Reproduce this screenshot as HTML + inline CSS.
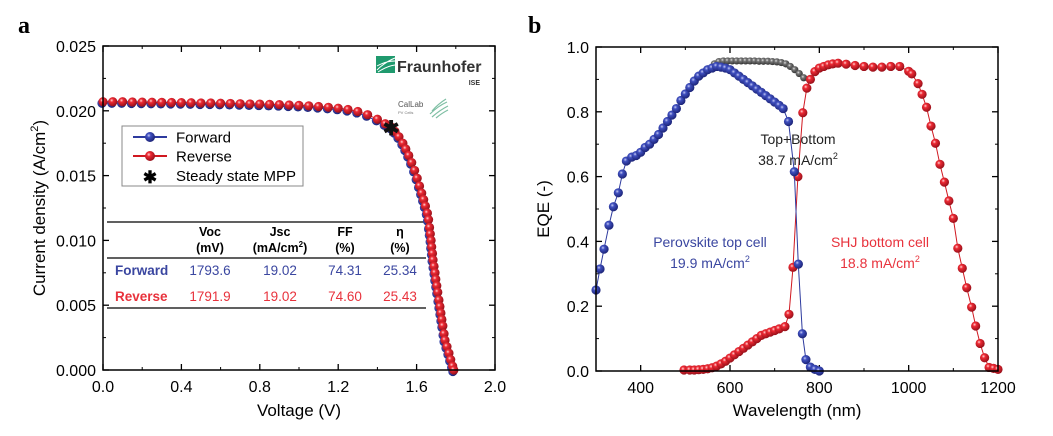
<!DOCTYPE html>
<html><head><meta charset="utf-8"><style>
body{margin:0;background:#fff;}
svg{display:block;font-family:"Liberation Sans",sans-serif;}
</style></head><body>
<svg id="fig" width="1053" height="436" viewBox="0 0 1053 436" xmlns="http://www.w3.org/2000/svg">
<defs>
<radialGradient id="gBlue" cx="0.38" cy="0.35" r="0.65"><stop offset="0" stop-color="#c8ccf4"/><stop offset="0.3" stop-color="#4050c0"/><stop offset="1" stop-color="#1c2478"/></radialGradient>
<radialGradient id="gRed" cx="0.38" cy="0.35" r="0.65"><stop offset="0" stop-color="#ffd8d8"/><stop offset="0.3" stop-color="#ee2a34"/><stop offset="1" stop-color="#98101a"/></radialGradient>
<radialGradient id="gGrey" cx="0.38" cy="0.35" r="0.65"><stop offset="0" stop-color="#e8e8e8"/><stop offset="0.3" stop-color="#777"/><stop offset="1" stop-color="#333"/></radialGradient>
</defs>
<text x="18" y="33" font-family="Liberation Serif,serif" font-weight="bold" font-size="24">a</text>
<text x="528" y="33" font-family="Liberation Serif,serif" font-weight="bold" font-size="24">b</text>
<g id="chartA"></g>
<g id="chartB"></g>
</svg>
<script>
// ---- Panel a data ----
const jvVoltage=[0,0.05,0.1,0.15,0.2,0.25,0.3,0.35,0.4,0.45,0.5,0.55,0.6,0.65,0.7,0.75,0.8,0.85,0.9,0.95,1.0,1.05,1.1,1.15,1.2,1.25,1.3,1.35,1.4,1.44,1.47,1.49,1.51,1.53,1.545,1.56,1.575,1.59,1.603,1.615,1.626,1.636,1.645,1.655,1.661,1.666,1.670,1.674,1.677,1.681,1.684,1.689,1.694,1.698,1.703,1.708,1.714,1.719,1.724,1.729,1.734,1.740,1.745,1.755,1.765,1.774,1.784,1.79];
const jvCurrent=[20.7,20.7,20.7,20.68,20.67,20.66,20.65,20.64,20.63,20.62,20.6,20.6,20.58,20.57,20.55,20.53,20.52,20.5,20.48,20.45,20.42,20.38,20.33,20.27,20.2,20.1,19.95,19.7,19.35,19.0,18.75,18.4,18.0,17.5,17.05,16.55,16.0,15.4,14.8,14.2,13.65,13.15,12.65,12.1,11.6,11.0,10.5,10.0,9.5,9.0,8.5,8.0,7.5,7.0,6.5,6.0,5.4,4.9,4.4,3.9,3.4,2.8,2.3,1.8,1.3,0.8,0.3,0];
const mppPoint=[1.47,18.75];
const jvXTicks=[0,0.4,0.8,1.2,1.6,2.0];
const jvYTicks=[0,0.005,0.010,0.015,0.020,0.025];
// ---- Panel b data ----
const blueWl=[300,309,318,329,339,350,359,368,380,390,400,410,420,430,440,450,460,470,480,490,500,510,520,530,540,550,560,570,580,590,600,610,620,630,640,650,660,670,680,690,700,710,719,731,744,753,762,770,780,790,800];
const blueEqe=[0.25,0.315,0.376,0.45,0.507,0.55,0.608,0.648,0.66,0.665,0.675,0.69,0.70,0.715,0.73,0.75,0.77,0.79,0.81,0.835,0.855,0.875,0.895,0.91,0.92,0.93,0.935,0.94,0.938,0.935,0.93,0.92,0.91,0.90,0.89,0.88,0.87,0.86,0.85,0.84,0.83,0.82,0.81,0.77,0.615,0.33,0.115,0.035,0.012,0.005,0];
const redWl=[497,510,520,530,540,550,560,570,580,590,600,610,620,630,640,650,660,670,680,690,700,710,723,732,741,752,763,772,780,790,800,810,820,830,842,860,880,900,920,940,960,980,1000,1007,1021,1030,1040,1050,1060,1070,1080,1090,1100,1110,1120,1130,1141,1150,1160,1170,1180,1190,1200];
const redEqe=[0.003,0.003,0.003,0.004,0.005,0.007,0.01,0.015,0.022,0.03,0.04,0.05,0.06,0.07,0.08,0.09,0.10,0.11,0.115,0.12,0.125,0.13,0.137,0.175,0.32,0.60,0.797,0.873,0.90,0.924,0.935,0.94,0.945,0.948,0.95,0.947,0.943,0.94,0.938,0.938,0.94,0.94,0.925,0.917,0.887,0.854,0.814,0.756,0.703,0.638,0.583,0.525,0.471,0.379,0.317,0.257,0.197,0.139,0.085,0.041,0.011,0.008,0.005];
const greyWl=[565,575,585,595,605,615,625,635,645,655,665,675,685,695,705,715,725,735,745,755,765];
const greyEqe=[0.948,0.955,0.957,0.957,0.957,0.957,0.957,0.957,0.957,0.957,0.956,0.956,0.956,0.955,0.954,0.952,0.948,0.94,0.93,0.918,0.905];
const eqeXTicks=[400,600,800,1000,1200];
const eqeYTicks=[0,0.2,0.4,0.6,0.8,1.0];

const NS='http://www.w3.org/2000/svg';
function mk(parent,tag,attrs,text){const e=document.createElementNS(NS,tag);for(const k in attrs)e.setAttribute(k,attrs[k]);if(text!==undefined)e.textContent=text;parent.appendChild(e);return e;}

// ===== Panel A =====
const A=document.getElementById('chartA');
const aL=103,aR=495,aT=46,aB=370;
const ax=v=>aL+(v-0)/(2.0-0)*(aR-aL);
const ay=j=>aB-(j-0)/(0.025-0)*(aB-aT);
jvXTicks.forEach((t,i)=>{
  const x=ax(t);
  const tk=mk(A,'line',{x1:x,x2:x,y1:aB,y2:aB-6,stroke:'#000','stroke-width':1.3});
  
  
  const tt=mk(A,'line',{x1:x,x2:x,y1:aT,y2:aT+6,stroke:'#000','stroke-width':1.3});
  
  
  const lb=mk(A,'text',{x:x,y:aB+22,'text-anchor':'middle','font-size':16},t.toFixed(1));
  
  
  if(i<jvXTicks.length-1){const xm=ax(t+0.2);
    const m1=mk(A,'line',{x1:xm,x2:xm,y1:aB,y2:aB-3,stroke:'#000','stroke-width':1});
    const m2=mk(A,'line',{x1:xm,x2:xm,y1:aT,y2:aT+3,stroke:'#000','stroke-width':1});}
});
jvYTicks.forEach((t,i)=>{
  const y=ay(t);
  const tk=mk(A,'line',{x1:aL,x2:aL+6,y1:y,y2:y,stroke:'#000','stroke-width':1.3});
  
  
  const tr=mk(A,'line',{x1:aR,x2:aR-6,y1:y,y2:y,stroke:'#000','stroke-width':1.3});
  
  
  const lb=mk(A,'text',{x:aL-7,y:y+6,'text-anchor':'end','font-size':16},t.toFixed(3));
  
  
  if(i<jvYTicks.length-1){const ym=ay(t+0.0025);
    const m1=mk(A,'line',{x1:aL,x2:aL+3,y1:ym,y2:ym,stroke:'#000','stroke-width':1});
    const m2=mk(A,'line',{x1:aR,x2:aR-3,y1:ym,y2:ym,stroke:'#000','stroke-width':1});}
});
const xtA=mk(A,'text',{x:(aL+aR)/2,y:416,'text-anchor':'middle','font-size':17},'Voltage (V)');


const ytA=mk(A,'text',{transform:'translate(45,'+((aT+aB)/2)+') rotate(-90)','text-anchor':'middle','font-size':17});
ytA.innerHTML='Current density (A/cm<tspan font-size="11" dy="-7">2</tspan><tspan dy="7">)</tspan>';



// logo
const logo=mk(A,'g',{});


mk(logo,'rect',{x:376,y:56,width:19,height:17,fill:'#1f9a6e'});
mk(logo,'path',{d:'M377 70 Q385 62 395 58 M377 66 Q386 61 395 61 M378 72 Q387 66 395 65',stroke:'#fff','stroke-width':1,fill:'none'});
mk(logo,'text',{x:397,y:72,'font-size':16,'font-weight':'bold',fill:'#333'},'Fraunhofer');
mk(logo,'text',{x:480,y:85,'font-size':7,'font-weight':'bold','text-anchor':'end',fill:'#333'},'ISE');
mk(logo,'text',{x:398,y:107,'font-size':8,fill:'#555'},'CalLab');
mk(logo,'text',{x:398,y:114,'font-size':4,fill:'#777'},'PV Cells');
mk(logo,'path',{d:'M432 111 Q438 104 446 99 M430 114 Q438 106 447 102 M432 117 Q440 110 448 106 M436 118 Q442 113 448 110',stroke:'#7fbfa4','stroke-width':1.2,fill:'none'});

// table
const tbl=mk(A,'g',{});


[222,258,308].forEach(y=>{const l=mk(tbl,'line',{x1:107,x2:426,y1:y,y2:y,stroke:'#000','stroke-width':1.2});});
const cols=[210,280,345,400];
const hdr1=['Voc','Jsc','FF','η'];
hdr1.forEach((h,i)=>mk(tbl,'text',{x:cols[i],y:236,'text-anchor':'middle','font-size':12.5,'font-weight':'bold'},h));
['(mV)',null,'(%)','(%)'].forEach((h,i)=>{if(h)mk(tbl,'text',{x:cols[i],y:252,'text-anchor':'middle','font-size':12.5,'font-weight':'bold'},h);});
const jh=mk(tbl,'text',{x:cols[1],y:252,'text-anchor':'middle','font-size':12.5,'font-weight':'bold'});
jh.innerHTML='(mA/cm<tspan font-size="8" dy="-5">2</tspan><tspan dy="5">)</tspan>';
const rows=[['Forward','#3a46a0',['1793.6','19.02','74.31','25.34'],275],['Reverse','#e8323c',['1791.9','19.02','74.60','25.43'],301]];
rows.forEach(r=>{
  mk(tbl,'text',{x:115,y:r[3],'font-size':13.5,'font-weight':'bold',fill:r[1]},r[0]);
  r[2].forEach((v,i)=>mk(tbl,'text',{x:cols[i],y:r[3],'text-anchor':'middle','font-size':13.5,fill:r[1]},v));
});

// series
function ballSeries(parent,xs,ys,fx,fy,grad,lineColor,r,name,dx,dy){
  const g=mk(parent,'g',{});
  
  
  const pts=xs.map((v,i)=>(fx(v)+dx).toFixed(1)+','+(fy(ys[i])+dy).toFixed(1)).join(' ');
  const pl=mk(g,'polyline',{points:pts,fill:'none',stroke:lineColor,'stroke-width':1});
  
  
  xs.forEach((v,i)=>{
    const c=mk(g,'circle',{cx:fx(v)+dx,cy:fy(ys[i])+dy,r:r,fill:'url(#'+grad+')'});
    
    
  });
}
ballSeries(A,jvVoltage,jvCurrent,ax,j=>ay(j/1000),'gBlue','#2d3a9e',4.6,'forward-series',-1,1.5);
ballSeries(A,jvVoltage,jvCurrent,ax,j=>ay(j/1000),'gRed','#d01820',4.6,'reverse-series',0,0);
const mpp=mk(A,'text',{x:ax(mppPoint[0]),y:ay(mppPoint[1]/1000)+8,'text-anchor':'middle','font-size':20,'font-weight':'bold',fill:'#111'},'✱');



// legend
const lg=mk(A,'g',{});


mk(lg,'rect',{x:122,y:126,width:181,height:60,fill:'#fff',stroke:'#888','stroke-width':1});
[['Forward','gBlue','#2d3a9e',137],['Reverse','gRed','#d01820',156]].forEach(e=>{
  const le=mk(lg,'g',{});
  
  
  mk(le,'line',{x1:133,x2:167,y1:e[3],y2:e[3],stroke:e[2],'stroke-width':2});
  mk(le,'circle',{cx:150,cy:e[3],r:5,fill:'url(#'+e[1]+')'});
  mk(le,'text',{x:176,y:e[3]+5.5,'font-size':15},e[0]);
});
const le3=mk(lg,'g',{});


mk(le3,'text',{x:150,y:183,'text-anchor':'middle','font-size':17,'font-weight':'bold'},'✱');
mk(le3,'text',{x:176,y:181,'font-size':15},'Steady state MPP');

mk(A,'rect',{x:aL,y:aT,width:aR-aL,height:aB-aT,fill:'none',stroke:'#000','stroke-width':1.5});

// ===== Panel B =====
const B=document.getElementById('chartB');
const bL=596,bR=998,bT=47,bB=371;
const bx=w=>bL+(w-300)/(1200-300)*(bR-bL);
const by=e=>bB-(e-0)/(1-0)*(bB-bT);
eqeXTicks.forEach(t=>{
  const x=bx(t);
  const tk=mk(B,'line',{x1:x,x2:x,y1:bB,y2:bB-6,stroke:'#000','stroke-width':1.3});
  
  
  const tt=mk(B,'line',{x1:x,x2:x,y1:bT,y2:bT+6,stroke:'#000','stroke-width':1.3});
  
  
  const lb=mk(B,'text',{x:x,y:bB+22,'text-anchor':'middle','font-size':16},String(t));
  
  
  const xm=bx(t-100);
  if(t-100>300){
  const m1=mk(B,'line',{x1:xm,x2:xm,y1:bB,y2:bB-3,stroke:'#000','stroke-width':1});
  const m2=mk(B,'line',{x1:xm,x2:xm,y1:bT,y2:bT+3,stroke:'#000','stroke-width':1});}
});
eqeYTicks.forEach((t,i)=>{
  const y=by(t);
  const tk=mk(B,'line',{x1:bL,x2:bL+6,y1:y,y2:y,stroke:'#000','stroke-width':1.3});
  
  
  const tr=mk(B,'line',{x1:bR,x2:bR-6,y1:y,y2:y,stroke:'#000','stroke-width':1.3});
  
  
  const lb=mk(B,'text',{x:bL-7,y:y+6,'text-anchor':'end','font-size':16},t.toFixed(1));
  
  
  if(i<eqeYTicks.length-1){const ym=by(t+0.1);
    const m1=mk(B,'line',{x1:bL,x2:bL+3,y1:ym,y2:ym,stroke:'#000','stroke-width':1});
    const m2=mk(B,'line',{x1:bR,x2:bR-3,y1:ym,y2:ym,stroke:'#000','stroke-width':1});}
});
const xtB=mk(B,'text',{x:(bL+bR)/2,y:416,'text-anchor':'middle','font-size':17},'Wavelength (nm)');


const ytB=mk(B,'text',{transform:'translate(549,'+((bT+bB)/2)+') rotate(-90)','text-anchor':'middle','font-size':17},'EQE (-)');



ballSeries(B,greyWl,greyEqe,bx,by,'gGrey','#555',3.6,'top-plus-bottom-series',0,0);
ballSeries(B,redWl,redEqe,bx,by,'gRed','#d01820',4.6,'shj-bottom-series',0,0);
ballSeries(B,blueWl,blueEqe,bx,by,'gBlue','#2d3a9e',4.6,'perovskite-top-series',0,0);

function annot(x,y1,l1,color,name){
  const g=mk(B,'g',{});
  
  
  mk(g,'text',{x:x,y:y1,'text-anchor':'middle','font-size':14,fill:color},l1[0]);
  const t=mk(g,'text',{x:x,y:y1+21,'text-anchor':'middle','font-size':14,fill:color});
  t.innerHTML=l1[1]+'<tspan font-size="9" dy="-6">2</tspan>';
}
annot(798,144,['Top+Bottom','38.7 mA/cm'],'#222','top-bottom-annotation');
annot(710,247,['Perovskite top cell','19.9 mA/cm'],'#3a46a0','perovskite-annotation');
annot(880,247,['SHJ bottom cell','18.8 mA/cm'],'#e8323c','shj-annotation');

mk(B,'rect',{x:bL,y:bT,width:bR-bL,height:bB-bT,fill:'none',stroke:'#000','stroke-width':1.5});
</script>
</body></html>
